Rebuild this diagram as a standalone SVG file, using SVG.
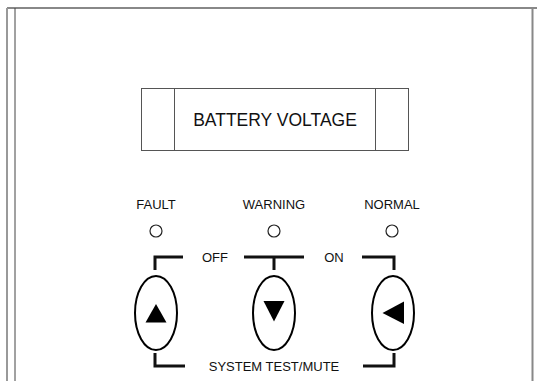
<svg xmlns="http://www.w3.org/2000/svg" width="537" height="381" viewBox="0 0 537 381">
<style>
.t{font-family:"Liberation Sans",Arial,sans-serif;fill:#111;text-anchor:middle}
.lbl{font-size:13px}
.br{fill:none;stroke:#111;stroke-width:3}
.btn{fill:#fff;stroke:#000;stroke-width:2}
.led{fill:#fff;stroke:#222;stroke-width:1.2}
</style>
<rect width="537" height="381" fill="#fff"/>
<g id="frame">
<line x1="7" y1="8" x2="537" y2="8" stroke="#888" stroke-width="2"/>
<line x1="7" y1="8" x2="7" y2="381" stroke="#999" stroke-width="2"/>
<line x1="15" y1="8" x2="15" y2="381" stroke="#444" stroke-width="1"/>
<line x1="532.5" y1="8" x2="532.5" y2="381" stroke="#888" stroke-width="2"/>
</g>
<g id="display">
<rect x="141.5" y="88.5" width="267" height="62" fill="#fff" stroke="#555" stroke-width="1"/>
<line x1="174.5" y1="88.5" x2="174.5" y2="150.5" stroke="#555"/>
<line x1="375.5" y1="88.5" x2="375.5" y2="150.5" stroke="#555"/>
<text class="t" x="275" y="126" font-size="17.5">BATTERY VOLTAGE</text>
</g>
<g id="fault">
<text class="t lbl" x="156" y="209">FAULT</text>
<circle class="led" cx="156" cy="231" r="6"/>
</g>
<g id="warning">
<text class="t lbl" x="274" y="209">WARNING</text>
<circle class="led" cx="274" cy="231" r="6"/>
</g>
<g id="normal">
<text class="t lbl" x="392" y="209">NORMAL</text>
<circle class="led" cx="392" cy="231" r="6"/>
</g>
<g id="btn-up">
<ellipse class="btn" cx="156" cy="313" rx="21" ry="37"/>
<polygon points="156,304 145.5,322.5 166.5,322.5" fill="#000"/>
</g>
<g id="btn-down">
<ellipse class="btn" cx="274" cy="313" rx="21" ry="37"/>
<polygon points="263.5,301 284.5,301 274,321.5" fill="#000"/>
</g>
<g id="btn-left">
<ellipse class="btn" cx="393" cy="313" rx="21" ry="37"/>
<polygon points="382.5,313 404,301.5 404,324" fill="#000"/>
</g>
<g id="connectors">
<path class="br" d="M155,270 V257 H183"/>
<path class="br" d="M244,257 H304 M274,257 V270"/>
<path class="br" d="M362,257 H394 V270"/>
<path class="br" d="M155,353 V366 H185"/>
<path class="br" d="M363,366 H394 V353"/>
</g>
<g id="labels">
<text class="t lbl" x="215" y="262">OFF</text>
<text class="t lbl" x="334" y="262">ON</text>
<text class="t lbl" x="274" y="371">SYSTEM TEST/MUTE</text>
</g>
</svg>
